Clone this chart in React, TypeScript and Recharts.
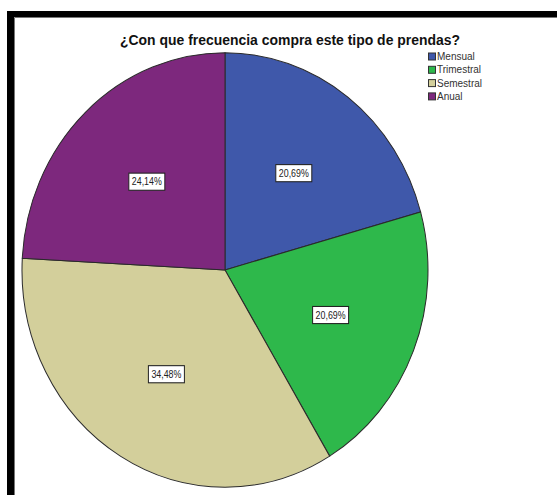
import React from 'react';
import { PieChart, Pie, Cell } from 'recharts';

const categories = ['Mensual', 'Trimestral', 'Semestral', 'Anual'];
const percentValues = [20.69, 20.69, 34.48, 24.14];
const sliceColors = ['#3F58AA', '#2EB84B', '#D3CF9B', '#7D287D'];
const chartTitle = '¿Con que frecuencia compra este tipo de prendas?';

const data = categories.map((name, i) => ({ name, value: percentValues[i] }));

const RAD = Math.PI / 180;
const fmt = (v: number) => v.toFixed(2).replace('.', ',') + '%';

const renderLabel = (props: any) => {
  const { cx, cy, midAngle, outerRadius, value } = props;
  const r = outerRadius * 0.56;
  const x = cx + r * Math.cos(-midAngle * RAD);
  const y = cy + r * Math.sin(-midAngle * RAD);
  const w = 36;
  const h = 16;
  return (
    <g>
      <rect x={x - w / 2} y={y - h / 2} width={w} height={h} fill="#ffffff" stroke="#222" strokeWidth={1} />
      <text
        x={x}
        y={y + 3.5}
        textAnchor="middle"
        fontSize={10}
        fontFamily="'Liberation Sans Narrow', 'Liberation Sans', Arial, sans-serif"
        fill="#222"
        textLength={30}
        lengthAdjust="spacingAndGlyphs"
      >
        {fmt(value)}
      </text>
    </g>
  );
};

export default function App() {
  return (
    <div style={{ position: 'absolute', left: 0, top: 0, width: 557, height: 495, overflow: 'hidden', background: '#fff' }}>
      <div
        style={{
          position: 'absolute',
          left: 0,
          top: 0,
          width: 557,
          height: 495,
          transform: 'scaleY(1.07)',
          transformOrigin: '225px 270px',
        }}
      >
        <PieChart width={557} height={495}>
          <Pie
            data={data}
            dataKey="value"
            nameKey="name"
            cx={220}
            cy={265}
            outerRadius={203}
            startAngle={90}
            endAngle={-270}
            stroke="#2a2a2a"
            strokeWidth={1}
            label={renderLabel}
            labelLine={false}
            isAnimationActive={false}
          >
            {data.map((d, i) => (
              <Cell key={d.name} fill={sliceColors[i]} />
            ))}
          </Pie>
        </PieChart>
      </div>
      <svg width={557} height={495} style={{ position: 'absolute', left: 0, top: 0, pointerEvents: 'none' }}>
        <rect x={7} y={11} width={560} height={6} fill="#000" />
        <rect x={7} y={11} width={7} height={500} fill="#000" />
        <line x1={14.5} y1={17.5} x2={557} y2={17.5} stroke="#777" strokeWidth={1} />
        <line x1={14.5} y1={17.5} x2={14.5} y2={495} stroke="#777" strokeWidth={1} />
        <text
          x={290}
          y={45}
          textAnchor="middle"
          fontSize={14.5}
          fontWeight="bold"
          fontFamily="'Liberation Sans', Arial, sans-serif"
          fill="#111"
          textLength={340}
          lengthAdjust="spacingAndGlyphs"
        >
          {chartTitle}
        </text>
        {categories.map((c, i) => {
          const y = 57 + i * 13.3;
          return (
            <g key={c}>
              <rect x={428.5} y={y - 4} width={7} height={7} fill={sliceColors[i]} stroke="#333" strokeWidth={1} />
              <text
                x={437}
                y={y + 3}
                fontSize={10}
                fontFamily="'Liberation Sans Narrow', 'Liberation Sans', Arial, sans-serif"
                fill="#333"
              >
                {c}
              </text>
            </g>
          );
        })}
      </svg>
    </div>
  );
}
